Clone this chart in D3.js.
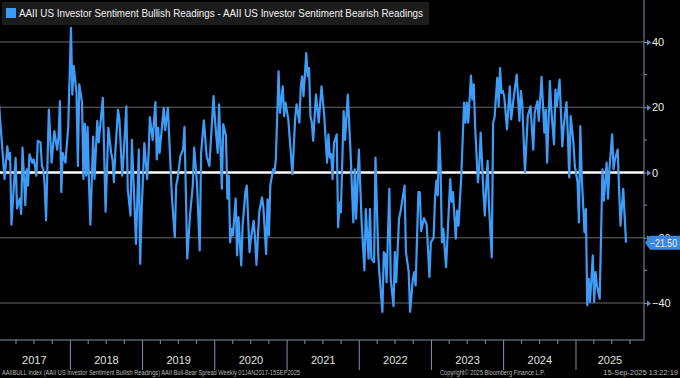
<!DOCTYPE html>
<html>
<head>
<meta charset="utf-8">
<script src="https://cdn.jsdelivr.net/npm/d3@7"></script>
<style>
body { margin: 0; background: #000; }
svg { display: block; }
</style>
</head>
<body>
<svg id="chart" width="680" height="378"></svg>
<script>
// weeks counted from the first reading (Thu 5 Jan 2017)
var weekNo = [0,4,6,7,8,9,12,13,15,16,17,19,20,21,22,24,25,26,27,28,30,31,32,33,34,36,38,40,42,43,44,45,46,48,50,
	52,53,54,56,57,58,60,61,62,63,64,65,66,68,69,71,72,75,77,79,81,82,83,84,86,87,89,90,92,93,95,96,99,101,102,103,
	105,107,108,109,111,113,114,115,116,119,120,122,124,125,127,128,129,131,133,134,136,138,140,141,143,145,146,148,
	150,152,155,156,158,159,161,162,164,165,166,167,168,169,171,172,173,175,176,178,179,181,182,184,185,186,188,190,
	191,193,194,195,196,198,199,200,202,203,205,206,207,209,212,214,215,217,218,219,220,222,223,224,225,226,227,229,
	231,233,235,237,238,239,240,241,242,244,245,246,247,249,250,252,254,256,257,258,260,261,262,264,265,267,268,269,
	271,272,274,275,277,278,279,280,282,283,285,286,287,289,290,293,294,296,297,299,300,301,303,304,305,307,309,311,
	312,314,315,316,317,318,319,320,321,323,324,326,327,328,330,331,332,334,336,337,338,339,341,342,343,344,346,347,
	348,350,351,353,354,356,357,358,360,361,362,363,364,365,367,369,370,372,374,376,377,378,380,382,384,386,387,389,
	390,392,394,395,396,398,399,401,402,403,405,406,407,408,410,411,412,413,415,416,418,419,420,421,423,424,425,426,
	427,429,430,431,432,434,436,437,439,440,441,443,444,445,447,448,449,451,453];
var spread = [20.9,-2,8,4,6,-16,4.5,-11,-8,-12.7,7.6,-10,1,-4,5.6,3,4,2,-1,9.7,9.2,2,1,-4,-14.7,19.3,3,12.7,7,11,
	21.9,-6,6,3,14,44.3,23.9,32.6,24.4,2,27,21.4,-2,15,-1,14,-3,-16,11,-2,15.8,9.2,22.9,-12,13.7,6,4,-3,6,19.3,16.3,
	-1,5,20.3,-5,-13.2,10,-21.9,7,-28,-12.2,9,-2,5,17,10,21.6,4,13.7,6,19.8,13,19.8,1,-8,-19.8,-4,-2,5,7,14,-26.4,
	-13,-4,7.6,-3,-23.9,6,16,5,2,23.4,16.3,6,20.9,-5,14.8,11.2,-8,-1,-21.4,-17.3,-19.3,-8,-25.4,-13.7,-28.5,-16.3,-6,
	-4,-24.4,-20.3,-14.8,-20.3,-28.3,-12.2,-7.6,-10.7,-25,-8.2,-19.3,-4,1,0,4,31,18.3,26.4,17.3,21.4,16.3,-0.5,16.8,
	20.9,15.3,26,29.5,23.4,36.6,29.5,32,17.3,15.3,9.7,23.9,15.3,26.4,17.3,3,11.7,4.6,5.6,-2,9,11.7,-16.8,-9.2,-12.2,
	18.8,10,23.9,6,-15.3,1,-14.2,7,-4,-15.3,-30,-11.2,-26.4,-11.2,-26.4,-27.5,4.6,-25.4,-32,-42.7,-24.4,-25,-33.6,-5,
	-32.6,-41,-24.4,-33.6,-14.2,-12.2,-4,-24.4,-30.5,-42.7,-32.6,-30.5,-34.6,-6,-6,-18,-14,-16,-32,-21.4,-20,-8,-2.5,
	-7,12.4,2,-21.4,-17.3,-29,-20,-2,-9,-6,-20.3,-11.7,-16.3,-1,21.4,15.3,21.4,15.3,29.7,22.4,27,14,-3,2,12.2,-6,
	-13.2,3.6,-10,-26,15.3,16.8,29,20.3,32,24.4,25,23.4,13.2,26.4,16.3,23.4,30,15.8,25,21.4,0,17.3,20.3,7,18.3,21.9,
	15.8,29.3,12.2,19.3,3,28,19.3,8.6,25.4,20.3,28.5,18.3,8,14.2,21.6,11.2,-1.5,17.3,9.2,2,-3,-15.3,14.2,-1,-18.3,
	-11.2,-40.7,-32.6,-39.7,-25.4,-39.7,-30.5,-34.6,-38.7,1,-8.6,3,-8,1,11.7,1,4,7,-5,-16.3,-5,-21.5];
var yTicks = [40, 20, 0, -20, -40];
var years = [2017, 2018, 2019, 2020, 2021, 2022, 2023, 2024, 2025];
var legendText = "AAII US Investor Sentiment Bullish Readings - AAII US Investor Sentiment Bearish Readings";
var footLeft = "AAIIBULL Index (AAII US Investor Sentiment Bullish Readings) AAII Bull-Bear Spread  Weekly 01JAN2017-15SEP2025";
var footMid = "Copyright\u00a9 2025 Bloomberg Finance L.P.";
var footRight = "15-Sep-2025 13:22:19";

var firstDay = new Date(2017, 0, 5);
var data = weekNo.map(function(w, i) {
	return {date: d3.timeDay.offset(firstDay, w * 7), v: spread[i]};
});
var last = data[data.length - 1];

var svg = d3.select("#chart");
var axisX = 644, axisY = 340;
var font = "'Liberation Sans', Arial, sans-serif";

var xScale = d3.scaleTime().domain([new Date(2017, 0, 10), new Date(2025, 11, 11)]).range([0, axisX]);
var yScale = d3.scaleLinear().domain([-40, 40]).range([303, 42]);

svg.append("rect").attr("width", 680).attr("height", 378).attr("fill", "#000");

// grid
svg.append("g")
	.selectAll("line")
	.data(yTicks.filter(d => d != 0))
	.enter()
	.append("line")
	.attr("x1", 0).attr("x2", axisX)
	.attr("y1", d => yScale(d)).attr("y2", d => yScale(d))
	.style("stroke", "#6b6b6b")
	.style("stroke-width", "1px");

svg.append("line")
	.attr("x1", 0).attr("x2", axisX)
	.attr("y1", yScale(0)).attr("y2", yScale(0))
	.style("stroke", "#ffffff")
	.style("stroke-width", "2.5px");

// the spread line
var line = d3.line().x(d => xScale(d.date)).y(d => yScale(d.v));
svg.append("path")
	.datum(data)
	.attr("d", line)
	.style("fill", "none")
	.style("stroke", "#3f9cf6")
	.style("stroke-width", "2.2px")
	.style("stroke-linejoin", "round");

// right axis
var yAxis = d3.axisRight(yScale).tickValues(yTicks).tickSize(0).tickPadding(8).tickFormat(d3.format("d"));
var gy = svg.append("g").attr("transform", "translate(" + axisX + ",0)").call(yAxis);
gy.select(".domain").remove();
gy.selectAll("text").attr("fill", "#ececec").style("font-family", font).style("font-size", "11px");
gy.selectAll(".tick").append("line").attr("x1", 0).attr("x2", 4).attr("stroke", "#6f8fb8");
gy.selectAll(".tick").append("path")
	.attr("d", "M7,0L3,-3L3,3Z")
	.attr("fill", "#6f8fb8");
svg.append("line")
	.attr("x1", axisX).attr("x2", axisX).attr("y1", 0).attr("y2", axisY)
	.style("stroke", "#8092ab").style("stroke-width", "1px");
svg.append("g")
	.selectAll("line")
	.data([30, 10, -10, -30])
	.enter()
	.append("line")
	.attr("x1", axisX).attr("x2", axisX + 3)
	.attr("y1", d => yScale(d)).attr("y2", d => yScale(d))
	.style("stroke", "#8092ab");

// bottom axis
svg.append("line")
	.attr("x1", 0).attr("x2", axisX).attr("y1", axisY).attr("y2", axisY)
	.style("stroke", "#8092ab").style("stroke-width", "1px");
var quarters = d3.timeMonth.every(3).range(new Date(2017, 0, 10), new Date(2025, 11, 11));
svg.append("g")
	.selectAll("line")
	.data(quarters)
	.enter()
	.append("line")
	.attr("x1", d => xScale(d)).attr("x2", d => xScale(d))
	.attr("y1", axisY).attr("y2", d => d.getMonth() == 0 ? 370 : axisY + 4)
	.style("stroke", "#8092ab").style("stroke-width", "1px");
svg.append("g")
	.selectAll("text")
	.data(years)
	.enter()
	.append("text")
	.attr("x", d => (xScale(new Date(d, 0, 1)) + Math.min(axisX, xScale(new Date(d + 1, 0, 1)))) / 2)
	.attr("y", 364)
	.attr("text-anchor", "middle")
	.attr("fill", "#e0e0e0")
	.style("font-family", font)
	.style("font-size", "11px")
	.text(d => d);

// last value tag (drawn over the -20 label, as in the terminal)
var ly = yScale(last.v);
svg.append("path")
	.attr("d", "M" + (axisX + 1) + "," + ly + "L" + (axisX + 6) + "," + (ly - 7) + "L680," + (ly - 7) + "L680," + (ly + 7) + "L" + (axisX + 6) + "," + (ly + 7) + "Z")
	.attr("fill", "#3a86e0");
svg.append("text")
	.attr("x", axisX + 6).attr("y", ly + 4)
	.attr("fill", "#f0f6ff")
	.attr("textLength", 27).attr("lengthAdjust", "spacingAndGlyphs")
	.style("font-family", font).style("font-size", "10px")
	.text(d3.format(".2f")(last.v));

// legend
svg.append("rect").attr("x", 2).attr("y", 2).attr("width", 427).attr("height", 23).attr("fill", "#1c1c1c");
svg.append("rect").attr("x", 6).attr("y", 8).attr("width", 10).attr("height", 10).attr("fill", "#3f9cf6");
svg.append("text")
	.attr("x", 19).attr("y", 17)
	.attr("fill", "#f2f2f2")
	.attr("textLength", 404).attr("lengthAdjust", "spacingAndGlyphs")
	.style("font-family", font).style("font-size", "11px")
	.text(legendText);

// footer
var foot = svg.append("g").attr("fill", "#b8b8b8").style("font-family", font).style("font-size", "7.5px");
foot.append("text").attr("x", 2).attr("y", 375).attr("textLength", 298).attr("lengthAdjust", "spacingAndGlyphs").text(footLeft);
foot.append("text").attr("x", 440).attr("y", 375).attr("textLength", 105).attr("lengthAdjust", "spacingAndGlyphs").text(footMid);
foot.append("text").attr("x", 678).attr("y", 375).attr("text-anchor", "end").text(footRight);
</script>
</body>
</html>
